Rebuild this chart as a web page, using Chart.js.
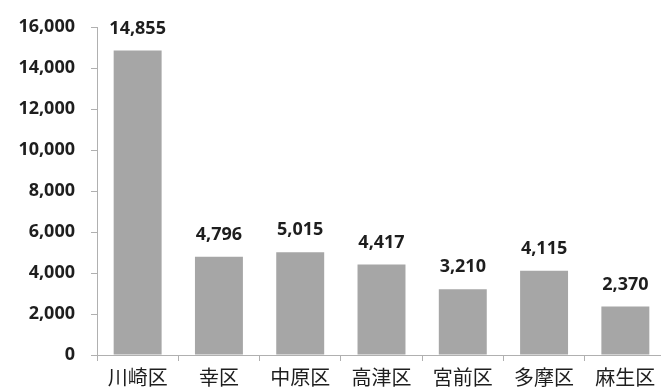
<!DOCTYPE html>
<html>
<head>
<meta charset="utf-8">
<script src="https://cdn.jsdelivr.net/npm/chart.js@4"></script>
<style>
  html, body { margin: 0; padding: 0; background: #fff; overflow: hidden; }
  #wrap { width: 661px; height: 392px; overflow: hidden; }
</style>
</head>
<body>
<div id="wrap"><canvas id="myChart" width="666" height="392"></canvas></div>
<script>
const labels = ['川崎区', '幸区', '中原区', '高津区', '宮前区', '多摩区', '麻生区'];
const values = [14855, 4796, 5015, 4417, 3210, 4115, 2370];
const yTicks = [0, 2000, 4000, 6000, 8000, 10000, 12000, 14000, 16000];

function fmt(v){
    return v.toLocaleString('en-US');
}

// numbers above bars
const valueLabels = {
    id: 'valueLabels',
    afterDatasetsDraw(chart){
        const ctx = chart.ctx;
        const meta = chart.getDatasetMeta(0);
        ctx.save();
        ctx.font = 'bold 18px "Open Sans", "Noto Sans", sans-serif';
        ctx.fillStyle = '#1e1e1e';
        ctx.textAlign = 'center';
        ctx.textBaseline = 'middle';
        meta.data.forEach(function(bar, i){
            ctx.fillText(fmt(values[i]), bar.x, bar.y - 22);
        });
        ctx.restore();
    }
};

const data = {
    labels: labels,
    datasets: [{
        data: values,
        backgroundColor: '#a6a6a6',
        borderWidth: 0,
        categoryPercentage: 1.0,
        barPercentage: 0.59
    }]
};

const config = {
    type: 'bar',
    data: data,
    plugins: [valueLabels],
    options: {
        responsive: false,
        animation: false,
        layout: { padding: { top: 27, right: 0, left: 0, bottom: 0 } },
        plugins: { legend: { display: false }, tooltip: { enabled: false } },
        scales: {
            x: {
                offset: true,
                grid: { display: true, offset: true, drawOnChartArea: false, tickLength: 6, color: '#b0b0b0' },
                border: { color: '#b0b0b0' },
                ticks: { color: '#1e1e1e', padding: 4, font: { family: '"Noto Sans CJK JP", sans-serif', size: 20 } },
                afterFit(scale){ scale.height = 37; }
            },
            y: {
                min: 0,
                max: 16000,
                afterBuildTicks(scale){ scale.ticks = yTicks.map(function(v){ return { value: v }; }); },
                grid: { display: true, drawOnChartArea: false, tickLength: 6, color: '#b0b0b0' },
                border: { color: '#b0b0b0' },
                ticks: {
                    color: '#1e1e1e',
                    padding: 16,
                    font: { family: '"Open Sans", "Noto Sans", sans-serif', size: 18, weight: 'bold' },
                    callback: function(v){ return fmt(v); }
                },
                afterFit(scale){ scale.width = 97; }
            }
        }
    }
};

const ctx = document.getElementById('myChart').getContext('2d');
const myChart = new Chart(ctx, config);
</script>
</body>
</html>
